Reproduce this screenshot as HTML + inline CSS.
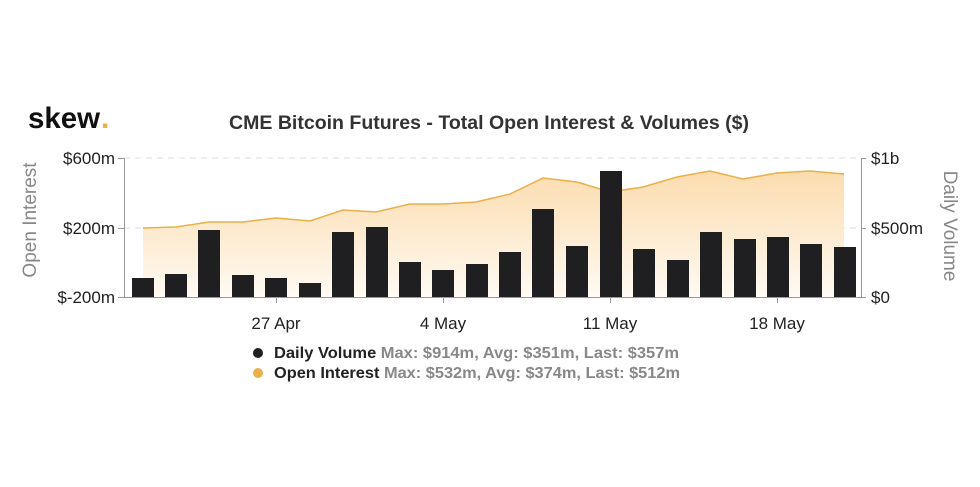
<!DOCTYPE html>
<html><head><meta charset="utf-8"><style>
html,body{margin:0;padding:0;background:#fff;}
svg{display:block;font-family:"Liberation Sans",Arial,sans-serif;}
</style></head><body>
<svg width="980" height="487" viewBox="0 0 980 487" xmlns="http://www.w3.org/2000/svg">
<defs>
<linearGradient id="g" x1="0" y1="0" x2="0" y2="1">
<stop offset="0" stop-color="#fbdcae"/>
<stop offset="1" stop-color="#fffaf3"/>
</linearGradient>
</defs>
<text x="28" y="128" font-size="30" font-weight="bold" fill="#111" textLength="72" lengthAdjust="spacingAndGlyphs">skew</text>
<text x="101" y="128" font-size="30" font-weight="bold" fill="#e8b04a">.</text>
<text x="489" y="129" font-size="19" font-weight="bold" fill="#333" text-anchor="middle" textLength="520" lengthAdjust="spacingAndGlyphs">CME Bitcoin Futures - Total Open Interest &amp; Volumes ($)</text>
<line x1="124" y1="158" x2="861" y2="158" stroke="#ddd" stroke-dasharray="6,5"/>
<line x1="124" y1="228" x2="861" y2="228" stroke="#ddd" stroke-dasharray="6,5"/>
<polygon fill="url(#g)" points="143,297 143,228 176,227 209,222 243,222 276,218 310,221 343,210 376,212 410,204 443,204 476,202 510,194 543,178 577,182 610,192 643,187 677,177 710,171 743,179 777,173 810,171 844,174 844,297"/>
<polyline fill="none" stroke="#e8b04a" stroke-width="1.5" points="143,228 176,227 209,222 243,222 276,218 310,221 343,210 376,212 410,204 443,204 476,202 510,194 543,178 577,182 610,192 643,187 677,177 710,171 743,179 777,173 810,171 844,174"/>
<g fill="#1f1f22">
<rect x="132" y="278" width="22" height="19"/>
<rect x="165" y="274" width="22" height="23"/>
<rect x="198" y="230" width="22" height="67"/>
<rect x="232" y="275" width="22" height="22"/>
<rect x="265" y="278" width="22" height="19"/>
<rect x="299" y="283" width="22" height="14"/>
<rect x="332" y="232" width="22" height="65"/>
<rect x="366" y="227" width="22" height="70"/>
<rect x="399" y="262" width="22" height="35"/>
<rect x="432" y="270" width="22" height="27"/>
<rect x="466" y="264" width="22" height="33"/>
<rect x="499" y="252" width="22" height="45"/>
<rect x="532" y="209" width="22" height="88"/>
<rect x="566" y="246" width="22" height="51"/>
<rect x="600" y="171" width="22" height="126"/>
<rect x="633" y="249" width="22" height="48"/>
<rect x="667" y="260" width="22" height="37"/>
<rect x="700" y="232" width="22" height="65"/>
<rect x="734" y="239" width="22" height="58"/>
<rect x="767" y="237" width="22" height="60"/>
<rect x="800" y="244" width="22" height="53"/>
<rect x="834" y="247" width="22" height="50"/>
</g>
<line x1="124.5" y1="158" x2="124.5" y2="297" stroke="#999"/>
<line x1="861.5" y1="158" x2="861.5" y2="297" stroke="#999"/>
<line x1="118" y1="297.5" x2="866" y2="297.5" stroke="#999"/>
<line x1="118" y1="158.5" x2="124" y2="158.5" stroke="#999"/>
<line x1="118" y1="228.5" x2="124" y2="228.5" stroke="#999"/>
<line x1="861" y1="158.5" x2="866" y2="158.5" stroke="#999"/>
<line x1="861" y1="228.5" x2="866" y2="228.5" stroke="#999"/>
<g stroke="#999"><line x1="276.5" y1="297" x2="276.5" y2="303"/><line x1="443.5" y1="297" x2="443.5" y2="303"/><line x1="610.5" y1="297" x2="610.5" y2="303"/><line x1="777.5" y1="297" x2="777.5" y2="303"/></g>
<g font-size="17" fill="#222">
<text x="115" y="164" text-anchor="end">$600m</text>
<text x="115" y="234" text-anchor="end">$200m</text>
<text x="115" y="303" text-anchor="end">$-200m</text>
<text x="871" y="164">$1b</text>
<text x="871" y="234">$500m</text>
<text x="871" y="303">$0</text>
<text x="276" y="329" text-anchor="middle">27 Apr</text>
<text x="443" y="329" text-anchor="middle">4 May</text>
<text x="610" y="329" text-anchor="middle">11 May</text>
<text x="777" y="329" text-anchor="middle">18 May</text>
</g>
<text transform="translate(36,220) rotate(-90)" font-size="19" fill="#888" text-anchor="middle">Open Interest</text>
<text transform="translate(944,226) rotate(90)" font-size="19" fill="#888" text-anchor="middle">Daily Volume</text>
<circle cx="258" cy="353" r="5" fill="#1f1f22"/>
<circle cx="258" cy="373" r="5" fill="#e8b04a"/>
<g font-size="15.5" font-weight="bold">
<text x="274" y="358" fill="#222" textLength="405" lengthAdjust="spacingAndGlyphs">Daily Volume <tspan fill="#888">Max: $914m, Avg: $351m, Last: $357m</tspan></text>
<text x="274" y="378" fill="#222" textLength="406" lengthAdjust="spacingAndGlyphs">Open Interest <tspan fill="#888">Max: $532m, Avg: $374m, Last: $512m</tspan></text>
</g>
</svg>
</body></html>
